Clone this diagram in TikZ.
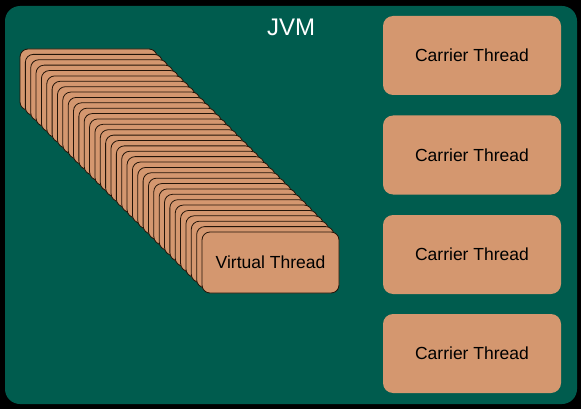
\documentclass[tikz,border=0pt]{standalone}
\usepackage{fontspec}
\setmainfont{Liberation Sans}
\definecolor{jvmgreen}{RGB}{0,92,78}
\definecolor{tan}{RGB}{212,151,111}
\definecolor{edge}{RGB}{35,20,8}

\begin{document}
\begin{tikzpicture}[x=1pt,y=-1pt,line cap=round,line join=round]
\tikzset{
  carrier/.style={fill=tan,rounded corners=10pt,minimum width=178pt,minimum height=79pt,inner sep=0pt,font=\fontsize{17.5}{21}\selectfont},
  vthread/.style={fill=tan,draw=edge,line width=0.8pt,rounded corners=8pt,minimum width=137pt,minimum height=61pt,inner sep=0pt,font=\fontsize{17.5}{21}\selectfont}
}
\fill[black] (0,0) rectangle (581,409);
\useasboundingbox (0,0) rectangle (581,409);
\fill[jvmgreen,rounded corners=15pt] (5,6) rectangle (577,404);
\node[text=white,font=\fontsize{24}{28}\selectfont] (jvm) at (291,27) {JVM};
\node[carrier] (c1) at (472,55.5) {Carrier Thread};
\node[carrier] (c2) at (472,155) {Carrier Thread};
\node[carrier] (c3) at (472,254.5) {Carrier Thread};
\node[carrier] (c4) at (472,353.5) {Carrier Thread};
\foreach \i in {0,...,33}
  \node[vthread] (vt\i) at ({88.5+5.353*\i},{79.5+5.382*\i}) {};
\node[vthread] (vt34) at (270.5,262.5) {Virtual Thread};
\end{tikzpicture}
\end{document}
